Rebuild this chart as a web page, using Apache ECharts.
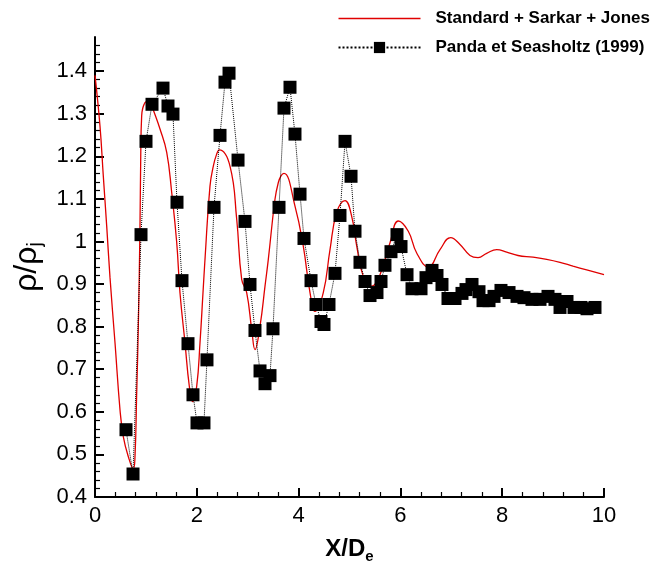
<!DOCTYPE html>
<html>
<head>
<meta charset="utf-8">
<script src="https://cdn.jsdelivr.net/npm/echarts@6/dist/echarts.min.js"></script>
<style>
html,body{margin:0;padding:0;background:#fff;}
#chart{width:659px;height:570px;}
</style>
</head>
<body>
<div id="chart"></div>
<script>
// Simulation: Standard + Sarkar + Jones
var simX = [0, 0.098, 0.163, 0.23, 0.295, 0.393, 0.491, 0.556, 0.654, 0.752, 0.786, 0.819, 0.851, 0.884, 0.898, 0.917, 0.982, 1.081, 1.139, 1.277, 1.409, 1.507, 1.605, 1.67, 1.768, 1.853, 1.919, 1.998, 2.063, 2.122, 2.161, 2.259, 2.325, 2.39, 2.442, 2.652, 2.784, 2.882, 2.98, 3.079, 3.143, 3.242, 3.34, 3.405, 3.536, 3.601, 3.654, 3.713, 3.929, 4.092, 4.224, 4.322, 4.485, 4.617, 4.748, 4.912, 5.043, 5.142, 5.271, 5.436, 5.599, 5.796, 5.959, 6.155, 6.32, 6.55, 6.778, 6.988, 7.171, 7.367, 7.525, 7.695, 7.892, 8.088, 8.31, 8.605, 8.874, 9.135, 9.391, 9.66, 10];
var simY = [1.39, 1.271, 1.154, 1.036, 0.915, 0.762, 0.605, 0.542, 0.495, 0.466, 0.495, 0.644, 0.801, 1.036, 1.193, 1.295, 1.326, 1.33, 1.311, 1.264, 1.209, 1.115, 0.998, 0.879, 0.762, 0.66, 0.624, 0.66, 0.762, 0.88, 0.958, 1.13, 1.177, 1.205, 1.215, 1.177, 1.052, 0.911, 0.88, 0.793, 0.746, 0.801, 0.895, 0.958, 1.099, 1.138, 1.154, 1.16, 1.083, 0.989, 0.88, 0.836, 0.88, 0.981, 1.068, 1.096, 1.059, 0.989, 0.918, 0.895, 0.922, 0.997, 1.048, 1.024, 0.973, 0.94, 0.981, 1.009, 0.993, 0.967, 0.962, 0.972, 0.981, 0.975, 0.967, 0.963, 0.958, 0.951, 0.942, 0.933, 0.922];
// Experiment: Panda et Seasholtz (1999)
var expX = [0.609, 0.747, 0.904, 1.002, 1.12, 1.336, 1.434, 1.532, 1.611, 1.709, 1.827, 1.925, 2.004, 2.141, 2.2, 2.338, 2.456, 2.554, 2.633, 2.81, 2.947, 3.045, 3.143, 3.242, 3.34, 3.438, 3.497, 3.615, 3.713, 3.831, 3.929, 4.028, 4.106, 4.244, 4.342, 4.44, 4.499, 4.597, 4.715, 4.813, 4.912, 5.03, 5.108, 5.206, 5.305, 5.403, 5.54, 5.619, 5.697, 5.815, 5.933, 6.012, 6.13, 6.228, 6.405, 6.503, 6.621, 6.719, 6.817, 6.935, 7.073, 7.21, 7.289, 7.407, 7.544, 7.623, 7.741, 7.839, 7.976, 8.134, 8.291, 8.428, 8.585, 8.743, 8.9, 9.037, 9.136, 9.273, 9.411, 9.548, 9.666, 9.823];
var expY = [0.558, 0.454, 1.016, 1.235, 1.322, 1.36, 1.318, 1.299, 1.092, 0.908, 0.76, 0.64, 0.574, 0.574, 0.722, 1.08, 1.249, 1.374, 1.395, 1.191, 1.047, 0.899, 0.791, 0.696, 0.666, 0.685, 0.795, 1.08, 1.313, 1.362, 1.252, 1.111, 1.007, 0.908, 0.852, 0.812, 0.805, 0.852, 0.925, 1.061, 1.235, 1.153, 1.024, 0.951, 0.906, 0.873, 0.88, 0.906, 0.944, 0.976, 1.016, 0.988, 0.922, 0.889, 0.889, 0.915, 0.932, 0.92, 0.899, 0.866, 0.866, 0.878, 0.887, 0.899, 0.882, 0.861, 0.861, 0.871, 0.885, 0.88, 0.871, 0.868, 0.864, 0.864, 0.871, 0.864, 0.845, 0.859, 0.845, 0.845, 0.842, 0.845];
var yTicks = [0.4, 0.5, 0.6, 0.7, 0.8, 0.9, 1.0, 1.1, 1.2, 1.3, 1.4];
var xTicks = [0, 2, 4, 6, 8, 10];
var seriesNames = ['Standard + Sarkar + Jones', 'Panda et Seasholtz (1999)'];

function pairs(xs, ys) { return xs.map(function (x, i) { return [x, ys[i]]; }); }

var font = '"Liberation Sans", Arial, Helvetica, sans-serif';
var chart = echarts.init(document.getElementById('chart'), null, { renderer: 'canvas' });
chart.setOption({
  animation: false,
  backgroundColor: '#fff',
  grid: { left: 95, right: 55, top: 37, bottom: 73, containLabel: false },
  legend: {
    orient: 'vertical', right: 4, top: 5,
    itemWidth: 82, itemHeight: 14, itemGap: 12,
    data: [
      { name: seriesNames[0], icon: 'path://M0,0 L82,0 L82,1.4 L0,1.4 Z' },
      { name: seriesNames[1] }
    ],
    textStyle: { fontFamily: font, fontWeight: 'bold', fontSize: 17, color: '#000', padding: [0, 0, 0, 10] }
  },
  xAxis: {
    type: 'value', min: 0, max: 10, interval: 2,
    axisLine: { lineStyle: { color: '#000', width: 2 } },
    axisTick: { inside: true, length: 9, lineStyle: { color: '#000', width: 2 } },
    minorTick: { show: true, splitNumber: 5, length: 5, lineStyle: { color: '#000', width: 1.2 } },
    splitLine: { show: false },
    axisLabel: { fontFamily: font, fontSize: 22, color: '#000', margin: 8 },
    name: '{a|X/D}{b|e}', nameLocation: 'middle', nameGap: 38,
    nameTextStyle: {
      fontFamily: font, fontWeight: 'bold', fontSize: 24, color: '#000',
      rich: {
        a: { fontFamily: font, fontWeight: 'bold', fontSize: 24, color: '#000' },
        b: { fontFamily: font, fontWeight: 'bold', fontSize: 15, color: '#000', padding: [14, 0, 0, 0] }
      }
    }
  },
  yAxis: {
    type: 'value', min: 0.4, max: 1.48, interval: 0.1,
    axisLine: { lineStyle: { color: '#000', width: 2 } },
    axisTick: { inside: true, length: 9, lineStyle: { color: '#000', width: 2 }, customValues: yTicks },
    minorTick: { show: true, splitNumber: 5, length: 5, lineStyle: { color: '#000', width: 1.2 } },
    splitLine: { show: false },
    axisLabel: { fontFamily: font, fontSize: 22, color: '#000', margin: 8, customValues: yTicks,
      formatter: function (v) { return String(Math.round(v * 10) / 10); } },
    name: '{a|ρ/ρ}{b|j}', nameLocation: 'middle', nameGap: 50, nameRotate: 90,
    nameTextStyle: {
      fontFamily: font, fontSize: 32, color: '#000',
      rich: {
        a: { fontFamily: font, fontSize: 32, color: '#000' },
        b: { fontFamily: font, fontSize: 20, color: '#000', padding: [16, 0, 0, 0] }
      }
    }
  },
  series: [
    {
      name: seriesNames[0], type: 'line', data: pairs(simX, simY),
      smooth: 0.45, showSymbol: false, symbol: 'none',
      lineStyle: { color: '#e00000', width: 1.3 }, itemStyle: { color: '#e00000' }, z: 2
    },
    {
      name: seriesNames[1], type: 'line', data: pairs(expX, expY),
      symbol: 'rect', symbolSize: 13, showSymbol: true,
      lineStyle: { color: '#000', width: 1, type: 'dotted' },
      itemStyle: { color: '#000' }, z: 3
    }
  ]
});
</script>
</body>
</html>
